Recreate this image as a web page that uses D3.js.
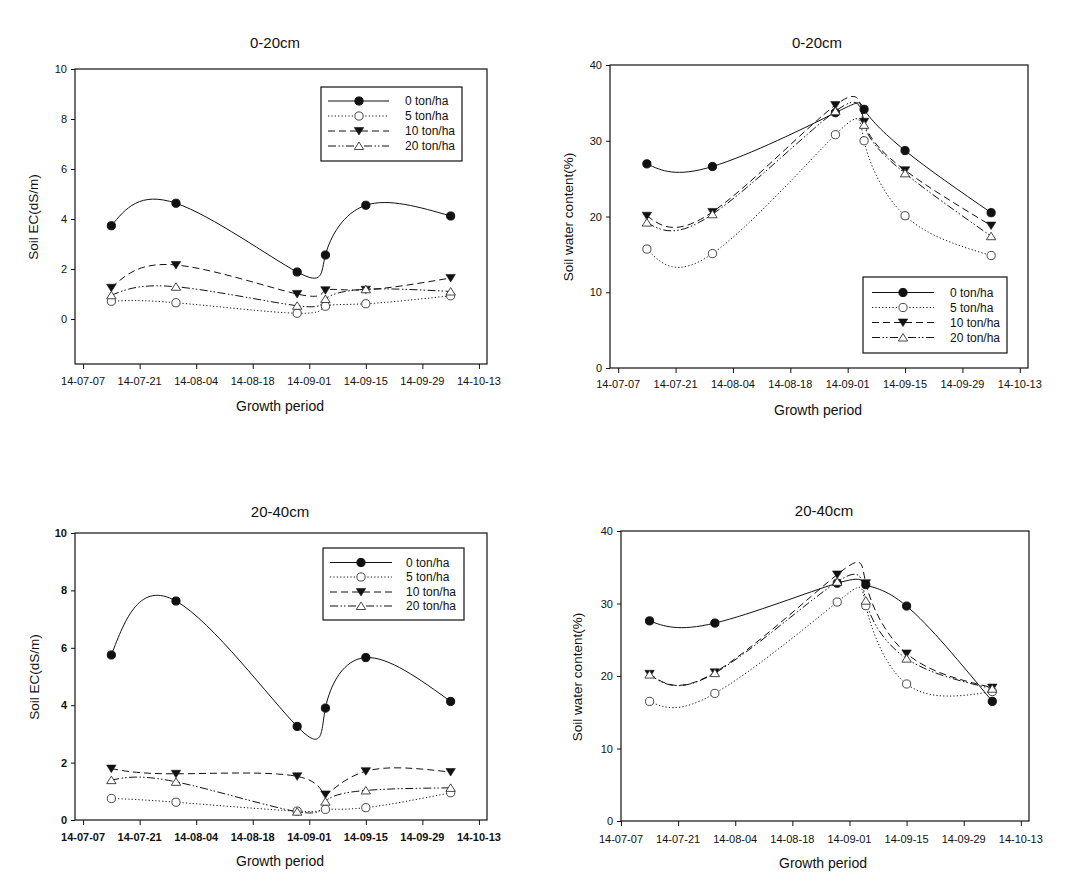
<!DOCTYPE html>
<html><head><meta charset="utf-8">
<script src="https://cdn.jsdelivr.net/npm/d3@7"></script>
<style>
body{margin:0;background:#fff;}
svg text{font-family:"Liberation Sans",Arial,sans-serif;fill:#111;}
</style></head>
<body>
<svg id="chart" width="1090" height="896"></svg>
<script>
// ---- data ----
const dates = ["2014-07-14","2014-07-30","2014-08-29","2014-09-05","2014-09-15","2014-10-06"];
const seriesNames = ["0 ton/ha","5 ton/ha","10 ton/ha","20 ton/ha"];
const xTickLabels = ["14-07-07","14-07-21","14-08-04","14-08-18","14-09-01","14-09-15","14-09-29","14-10-13"];

// Soil EC 0-20cm
const ecTop0  = [3.73, 4.63, 1.88, 2.56, 4.55, 4.12];
const ecTop5  = [0.71, 0.65, 0.23, 0.51, 0.61, 0.93];
const ecTop10 = [1.25, 2.16, 1.00, 1.15, 1.17, 1.64];
const ecTop20 = [0.95, 1.29, 0.53, 0.80, 1.19, 1.10];
// Soil water content 0-20cm
const swTop0  = [26.95, 26.6, 33.7, 34.15, 28.7, 20.5];
const swTop5  = [15.7, 15.1, 30.8, 30.0, 20.1, 14.85];
const swTop10 = [20.1, 20.6, 34.7, 32.5, 26.1, 18.8];
const swTop20 = [19.2, 20.3, 33.9, 32.1, 25.7, 17.4];
// Soil EC 20-40cm
const ecSub0  = [5.75, 7.63, 3.26, 3.90, 5.66, 4.13];
const ecSub5  = [0.75, 0.62, 0.31, 0.37, 0.43, 0.95];
const ecSub10 = [1.79, 1.61, 1.52, 0.89, 1.70, 1.67];
const ecSub20 = [1.39, 1.33, 0.29, 0.64, 1.03, 1.12];
// Soil water content 20-40cm
const swSub0  = [27.6, 27.3, 32.8, 32.6, 29.65, 16.5];
const swSub5  = [16.5, 17.6, 30.2, 29.7, 18.9, 17.85];
const swSub10 = [20.3, 20.5, 34.0, 32.8, 23.1, 18.4];
const swSub20 = [20.2, 20.4, 33.0, 30.4, 22.4, 18.25];

const ecTicks = [0,2,4,6,8,10];
const swTicks = [0,10,20,30,40];

// ---- styles ----
const dashes = [null, "1.2,2.2", "7,4", "8,2.5,1.5,2,1.5,2.5"];
const markerKind = ["fillCircle","openCircle","downTri","upTri"];

const parse = d3.timeParse("%Y-%m-%d");
const svg = d3.select("#chart");

function drawMarker(g, kind, x, y){
  const r=4.1, t=4.7;
  if(kind==="fillCircle") g.append("circle").attr("cx",x).attr("cy",y).attr("r",r).attr("fill","#111").attr("stroke","#111");
  else if(kind==="openCircle") g.append("circle").attr("cx",x).attr("cy",y).attr("r",r).attr("fill","#fff").attr("stroke","#333").attr("stroke-width",0.9);
  else if(kind==="downTri") g.append("path").attr("d",`M${x-t},${y-t*0.75}L${x+t},${y-t*0.75}L${x},${y+t*0.85}Z`).attr("fill","#111").attr("stroke","#111").attr("stroke-width",0.6);
  else g.append("path").attr("d",`M${x-t},${y+t*0.75}L${x+t},${y+t*0.75}L${x},${y-t*0.85}Z`).attr("fill","#fff").attr("stroke","#333").attr("stroke-width",0.9);
}

const panels = [
  {title:"0-20cm", ylab:"Soil EC(dS/m)", series:[ecTop0,ecTop5,ecTop10,ecTop20], yDom:[-1.8,10], yTicks:ecTicks,
   box:{l:75,r:487,t:69,b:364}, x0:"2014-07-05", bold:false,
   titlePos:[275,43], ylabPos:[33,217], xlabPos:[280,406], tickY:385,
   legend:{l:321,t:87,w:141,h:74,rows:[101,116,131,146],lx0:328,lx1:389,mx:359,tx:405}},
  {title:"0-20cm", ylab:"Soil water content(%)", series:[swTop0,swTop5,swTop10,swTop20], yDom:[0,40], yTicks:swTicks,
   box:{l:610,r:1028,t:65,b:368}, x0:"2014-07-05", bold:false,
   titlePos:[817,43], ylabPos:[568,217], xlabPos:[818,410], tickY:388,
   legend:{l:863,t:277,w:144,h:76,rows:[292.5,307.5,322.5,337.5],lx0:872,lx1:934,mx:903,tx:950}},
  {title:"20-40cm", ylab:"Soil EC(dS/m)", series:[ecSub0,ecSub5,ecSub10,ecSub20], yDom:[0,10], yTicks:ecTicks,
   box:{l:75,r:487,t:533,b:820}, x0:"2014-07-05", bold:true,
   titlePos:[280,512], ylabPos:[34,677], xlabPos:[280,861], tickY:841,
   legend:{l:323,t:548,w:141,h:72,rows:[562.5,577,592,606],lx0:330,lx1:392,mx:361,tx:406}},
  {title:"20-40cm", ylab:"Soil water content(%)", series:[swSub0,swSub5,swSub10,swSub20], yDom:[0,40], yTicks:swTicks,
   box:{l:621,r:1029,t:531,b:821}, x0:"2014-07-07", bold:false,
   titlePos:[824,511], ylabPos:[577,677], xlabPos:[823,863], tickY:843,
   legend:null}
];

panels.forEach(p=>{
  const g = svg.append("g");
  const B = p.box;
  const x = d3.scaleTime().domain([parse(p.x0), parse("2014-10-15")]).range([B.l,B.r]);
  const y = d3.scaleLinear().domain(p.yDom).range([B.b,B.t]);
  const fw = p.bold ? "bold" : "normal";

  g.append("rect").attr("x",B.l).attr("y",B.t).attr("width",B.r-B.l).attr("height",B.b-B.t)
    .attr("fill","none").attr("stroke","#111").attr("stroke-width",1.2);

  const minor = d3.timeDay.range(x.domain()[0], d3.timeDay.offset(x.domain()[1],1)).filter(d=>{
    const k = d3.timeDay.count(parse("2014-07-05"), d); return k%2===0;});
  const major = xTickLabels.map(s=>parse("20"+s));
  const xa = g.append("g").attr("transform",`translate(0,${B.b})`);
  xa.call(d3.axisBottom(x).tickValues(minor).tickSize(3).tickFormat(""));
  xa.call(d3.axisBottom(x).tickValues(major).tickSize(5).tickFormat(""));
  xa.selectAll(".domain").remove();
  xa.selectAll("line").attr("stroke","#111");
  g.selectAll(".xtl").data(major).enter().append("text")
    .attr("x",d=>x(d)).attr("y",p.tickY).attr("text-anchor","middle")
    .attr("font-size",11).attr("font-weight",fw).text((d,i)=>xTickLabels[i]);

  const ya = g.append("g").attr("transform",`translate(${B.l},0)`)
    .call(d3.axisLeft(y).tickValues(p.yTicks).tickSize(4).tickPadding(4).tickFormat(d3.format("d")));
  ya.select(".domain").remove();
  ya.selectAll("line").attr("stroke","#111");
  ya.selectAll("text").attr("font-size",11).attr("font-weight",fw).attr("font-family","Liberation Sans, Arial, sans-serif").attr("fill","#111");

  g.append("text").attr("x",p.titlePos[0]).attr("y",p.titlePos[1]).attr("dy","0.35em")
    .attr("text-anchor","middle").attr("font-size",15).text(p.title);
  g.append("text").attr("transform",`translate(${p.ylabPos[0]},${p.ylabPos[1]}) rotate(-90)`).attr("dy","0.35em")
    .attr("text-anchor","middle").attr("font-size",13.5).text(p.ylab);
  g.append("text").attr("x",p.xlabPos[0]).attr("y",p.xlabPos[1]).attr("dy","0.35em")
    .attr("text-anchor","middle").attr("font-size",14).text("Growth period");

  const line = d3.line().x((d,i)=>x(parse(dates[i]))).y(d=>y(d)).curve(d3.curveNatural);
  p.series.forEach((vals,si)=>{
    g.append("path").attr("d",line(vals)).attr("fill","none").attr("stroke","#111")
      .attr("stroke-width",1).attr("stroke-dasharray",dashes[si]);
  });
  p.series.forEach((vals,si)=>{
    vals.forEach((v,i)=>drawMarker(g, markerKind[si], x(parse(dates[i])), y(v)));
  });

  if(p.legend){
    const L=p.legend;
    g.append("rect").attr("x",L.l).attr("y",L.t).attr("width",L.w).attr("height",L.h)
      .attr("fill","#fff").attr("stroke","#111").attr("stroke-width",1.2);
    seriesNames.forEach((nm,si)=>{
      const ry=L.rows[si];
      g.append("line").attr("x1",L.lx0).attr("x2",L.lx1).attr("y1",ry).attr("y2",ry)
        .attr("stroke","#111").attr("stroke-width",1).attr("stroke-dasharray",dashes[si]);
      drawMarker(g, markerKind[si], L.mx, ry);
      g.append("text").attr("x",L.tx).attr("y",ry).attr("dy","0.35em").attr("font-size",12).text(nm);
    });
  }
});
</script>
</body></html>
